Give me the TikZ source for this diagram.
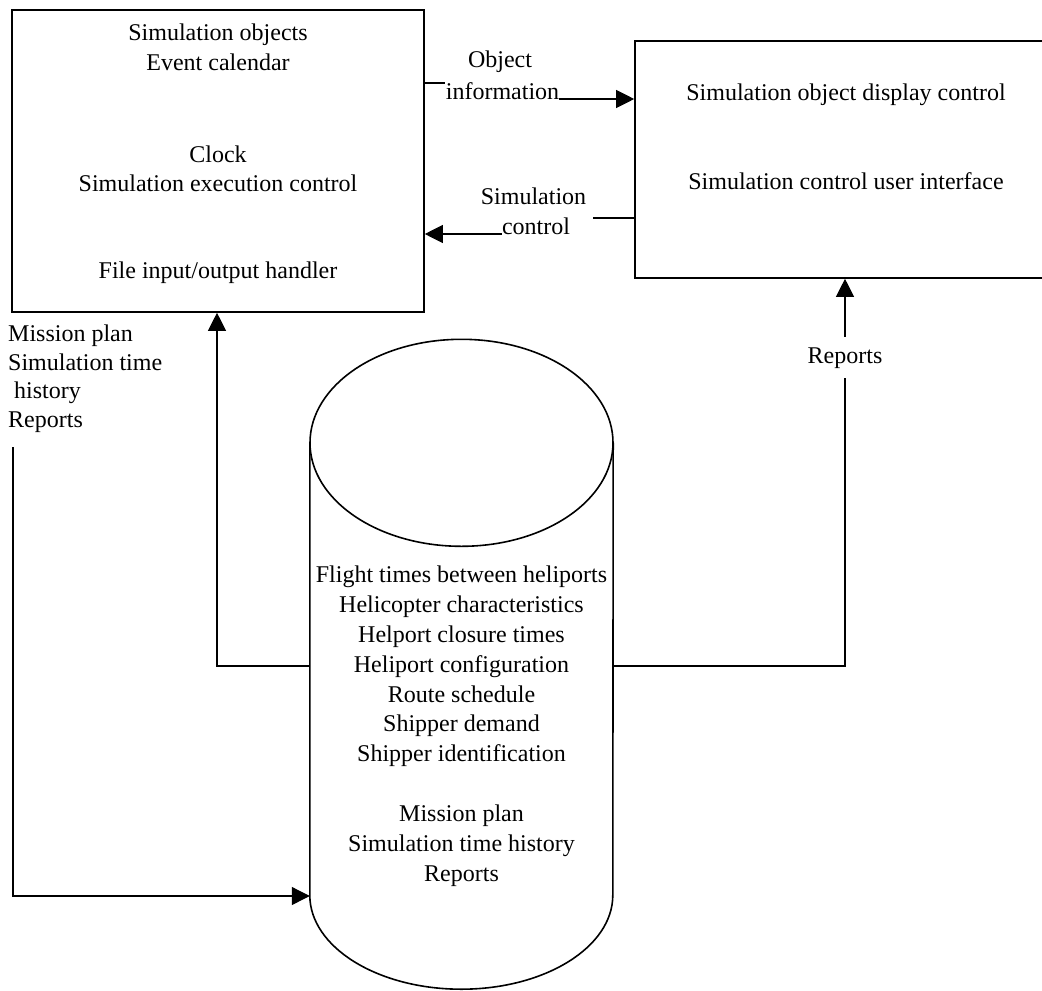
\documentclass[tikz,border=0pt]{standalone}
\usepackage{fontspec}
\setmainfont{Liberation Serif}
\usepackage{tikz}
\usetikzlibrary{arrows.meta,calc}
\newcommand{\framewidth}{1.6pt}
\newcommand{\flowwidth}{1.1pt}
\newcommand{\tipsize}{18pt}

\begin{document}
\begin{tikzpicture}[x=1pt,y=-1pt,
  lbl/.style={font=\fontsize{24}{30}\selectfont, inner sep=0pt, anchor=base},
  unitbox/.style={draw, line width=\framewidth, inner sep=0pt},
  flowline/.style={draw, line width=\flowwidth},
  flowarrow/.style={flowline, -{Triangle[length=\tipsize, width=\tipsize]}}]
\useasboundingbox (0,0) rectangle (1042,991);
%kernel
\node[unitbox, minimum width=412pt, minimum height=302pt] (kernel) at (218,161) {};
\node[lbl] (simobj) at (218,40) {Simulation objects};
\node[lbl] (evcal) at (218,70) {Event calendar};
\node[lbl] (clock) at (218,162) {Clock};
\node[lbl] (exec) at (218,191) {Simulation execution control};
\node[lbl] (fileio) at (218,278) {File input/output handler};
%display
\node[unitbox, minimum width=415pt, minimum height=237pt] (gui) at (842.5,159.5) {};
\node[lbl] (dispctl) at (846,100) {Simulation object display control};
\node[lbl] (userif) at (846,189) {Simulation control user interface};
%store
\node[minimum width=303pt, minimum height=452pt, inner sep=0pt] (store) at (461.5,669) {};
\draw[line width=\framewidth] (store.north) ellipse [x radius=151.5pt, y radius=103.5pt];
\draw[line width=\framewidth] (store.north west) -- (store.south west)
  arc [start angle=180, end angle=360, x radius=151.5pt, y radius=94pt] -- (store.north east);
\node[lbl, anchor=north, align=center, font=\fontsize{24}{29.9}\selectfont] (contents) at (461.5,565.6)
  {Flight times between heliports\\ Helicopter characteristics\\ Helport closure times\\
   Heliport configuration\\ Route schedule\\ Shipper demand\\ Shipper identification\\[29.9pt]
   Mission plan\\ Simulation time history\\ Reports};
%labels
\node[lbl] (objlbl) at (500,67) {Object};
\node[lbl] (infolbl) at (502.5,99) {information};
\node[lbl] (simlbl) at (533.5,204) {Simulation};
\node[lbl] (ctrllbl) at (536,234) {control};
\node[lbl, anchor=north west, align=left, font=\fontsize{24}{28.7}\selectfont] (outlbl) at (8,324.6)
  {Mission plan\\ Simulation time\\ \hspace*{6pt}history\\ Reports};
%flows
\coordinate (infostub) at (445,83);
\draw[flowline] (kernel.east |- infostub) -- (infostub);
\draw[flowarrow] (infolbl.base east) -- (gui.west |- infolbl.base);
\coordinate (ctrlstub) at (593,218);
\draw[flowline] (gui.west |- ctrlstub) -- (ctrlstub);
\draw[flowarrow] (ctrllbl.base west) -- (kernel.east |- ctrllbl.base);
\coordinate (rptcorner) at (845,666);
\draw[flowarrow] (store.east |- rptcorner) -- (rptcorner) -- (gui.south -| rptcorner);
\node[lbl, fill=white, inner ysep=10pt, inner xsep=2pt] (rptlbl) at (845,363) {Reports};
\coordinate (inputcorner) at (217,666);
\draw[flowarrow] (store.west |- inputcorner) -- (inputcorner) -- (kernel.south -| inputcorner);
\coordinate (outtop) at (13,447);
\coordinate (outcorner) at (13,896);
\draw[flowarrow] (outtop) -- (outcorner) -- (store.west |- outcorner);
\end{tikzpicture}
\end{document}
